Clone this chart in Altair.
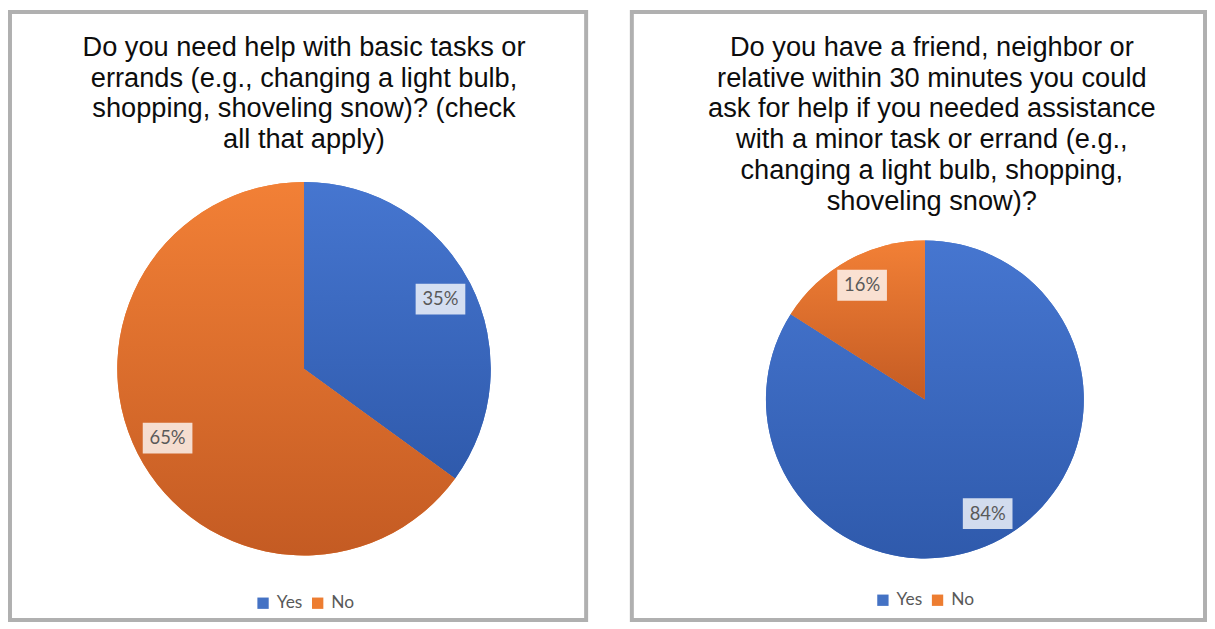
import altair as alt
import pandas as pd

answers = ["Yes", "No"]
answer_idx = [0, 1]
q1_values = [35, 65]
q2_values = [84, 16]
q1_title = [
    "Do you need help with basic tasks or",
    "errands (e.g., changing a light bulb,",
    "shopping, shoveling snow)? (check",
    "all that apply)",
]
q2_title = [
    "Do you have a friend, neighbor or",
    "relative within 30 minutes you could",
    "ask for help if you needed assistance",
    "with a minor task or errand (e.g.,",
    "changing a light bulb, shopping,",
    "shoveling snow)?",
]

colors = ["#4472C4", "#ED7D31"]
grad_blue = {"gradient": "linear", "x1": 0, "y1": 0, "x2": 0, "y2": 1,
             "stops": [{"offset": 0, "color": "#4676D0"}, {"offset": 1, "color": "#2F5AAC"}]}
grad_orange = {"gradient": "linear", "x1": 0, "y1": 0, "x2": 0, "y2": 1,
               "stops": [{"offset": 0, "color": "#F28036"}, {"offset": 1, "color": "#C45B23"}]}

H = 612


def panel(values, title_lines, W, cx, cy, r, tx, ty, lx, ly):
    df = pd.DataFrame({"answer": answers, "value": values, "idx": answer_idx})
    lr = r * 0.82
    base = (
        alt.Chart(df)
        .transform_joinaggregate(total="sum(value)")
        .transform_window(cum="sum(value)", sort=[alt.SortField("idx")], frame=[None, 0])
        .transform_calculate(
            mid="(datum.cum - datum.value/2)/datum.total*2*PI",
        )
        .transform_calculate(
            px=f"{cx} + {lr}*sin(datum.mid)",
            py=f"{cy} - {lr}*cos(datum.mid)",
            label="datum.value + '%'",
        )
        .transform_calculate(
            bx1="datum.px - 25", bx2="datum.px + 25",
            by1="datum.py - 15.5", by2="datum.py + 15.5",
        )
    )
    legend_arc = base.mark_arc(radius=r).encode(
        theta=alt.Theta("value:Q", stack=True),
        order=alt.Order("idx:Q"),
        color=alt.Color(
            "answer:N",
            scale=alt.Scale(domain=answers, range=colors),
            legend=alt.Legend(
                title=None, orient="none", legendX=lx, legendY=ly,
                direction="horizontal", symbolType="square", symbolSize=130,
                symbolStrokeWidth=0, labelFont="Lato", labelFontSize=17.5,
                labelColor="#595959", columnPadding=6, labelOffset=5, padding=0,
            ),
        ),
        x=alt.value(cx), y=alt.value(cy),
    )
    grad_arc = base.mark_arc(radius=r).encode(
        theta=alt.Theta("value:Q", stack=True),
        order=alt.Order("idx:Q"),
        detail="answer:N",
        fill=alt.condition("datum.answer == 'Yes'", alt.value(grad_blue), alt.value(grad_orange)),
        x=alt.value(cx), y=alt.value(cy),
    )
    boxes = base.mark_rect(fill="white", opacity=0.78).encode(
        x=alt.X("bx1:Q", scale=None, axis=None), x2="bx2:Q",
        y=alt.Y("by1:Q", scale=None, axis=None), y2="by2:Q",
    )
    labels = base.mark_text(font="Lato", fontSize=18.5, color="#595959").encode(
        x=alt.X("px:Q", scale=None, axis=None),
        y=alt.Y("py:Q", scale=None, axis=None),
        text="label:N",
    )
    title = base.transform_filter("datum.idx == 0").mark_text(
        font="Liberation Sans", fontSize=27.4, color="#0d0d0d",
        baseline="alphabetic", align="center", lineHeight=31,
    ).encode(x=alt.value(tx), y=alt.value(ty), text=alt.value(title_lines))
    return alt.layer(legend_arc, grad_arc, boxes, labels, title).properties(width=W, height=H)


left = panel(q1_values, q1_title, 580, 296, 359, 188, 296, 44, 246, 586)
right = panel(q2_values, q2_title, 577, 295, 390, 160, 302, 44, 244, 583)

chart = (
    alt.hconcat(left, right, spacing=42)
    .resolve_scale(color="independent")
    .resolve_legend(color="independent")
    .properties(padding=0, background="white")
    .configure_view(stroke="#b0b0b0", strokeWidth=4, fill="white")
)

chart.save("out.html", embed_options={"renderer": "svg", "actions": False})
